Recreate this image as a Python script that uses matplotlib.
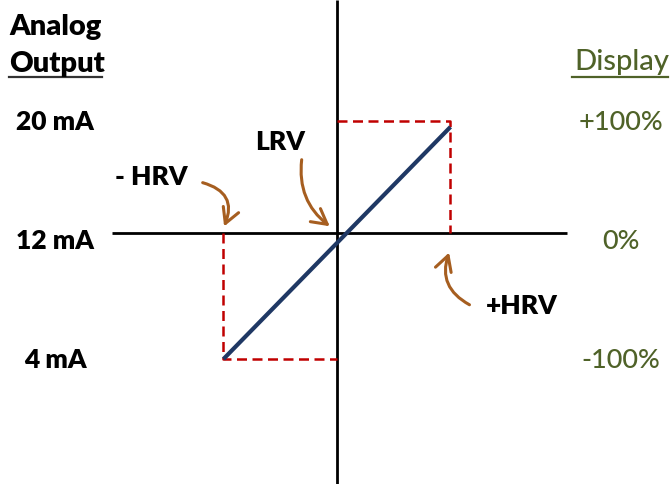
import matplotlib
matplotlib.use("Agg")
import matplotlib.pyplot as plt
from matplotlib.patches import FancyArrowPatch

# Data
display_pct = [-100, 0, 100]          # horizontal scale (% of range)
current_ma = [4, 12, 20]              # vertical scale (mA)
left_labels = ["4 mA", "12 mA", "20 mA"]
right_labels = ["-100%", "0%", "+100%"]
transfer_x = [-100, 100]              # blue transfer line
transfer_y = [4, 19.6]
axis_y = 12.45                        # horizontal axis level
hrv_labels = ["- HRV", "LRV", "+HRV"]

plt.rcParams['font.family'] = ['Lato', 'DejaVu Sans']

fig = plt.figure(figsize=(6.7, 4.84), dpi=100)
ax = fig.add_axes([0, 0, 1, 1])
ax.set_xlim(-296.9, 293.4)
ax.set_ylim(-4.40, 28.13)
ax.axis('off')

black = 'black'
green = '#4f6228'
red = '#c00000'
navy = '#1f3864'
brown = '#a65e20'

# axes lines
ax.plot([0, 0], [-4.40, 28.13], color=black, lw=2.0, solid_capstyle='butt')
ax.plot([-198, 202.6], [axis_y, axis_y], color=black, lw=2.0, solid_capstyle='butt')

# red dashed boxes
ax.plot([display_pct[0], display_pct[0], display_pct[1]],
        [axis_y, current_ma[0], current_ma[0]],
        color=red, lw=1.8, dashes=(4.0, 2.2))
ax.plot([display_pct[1], display_pct[2], display_pct[2]],
        [current_ma[2], current_ma[2], axis_y],
        color=red, lw=1.8, dashes=(4.0, 2.2))

# blue transfer line
ax.plot(transfer_x, transfer_y, color=navy, lw=3.0, solid_capstyle='butt')

def label(x, y, s, dy_px, **kw):
    ax.annotate(s, (x, y), xytext=(0, -dy_px * 0.72), textcoords='offset points',
                va='baseline', **kw)

# left labels
for v, lab in zip(current_ma, left_labels):
    label(-248.5, v, lab, 9, ha='center', fontsize=19, fontweight='heavy',
          color=black)
# right labels
for v, lab in zip(current_ma, right_labels):
    label(250.2, v, lab, 9, ha='center', fontsize=19.5, fontweight='medium',
          color=green)

# headers
ax.text(-289, 25.78, "Analog", ha='left', va='baseline', fontsize=21,
        fontweight='heavy', color=black)
ax.text(-289, 23.29, "Output", ha='left', va='baseline', fontsize=21,
        fontweight='heavy', color=black)
ax.plot([-289, -207], [22.93, 22.93], color='#333333', lw=1.6)
ax.text(292.5, 23.43, "Display", ha='right', va='baseline', fontsize=21,
        fontweight='medium', color=green)
ax.plot([207, 292], [22.93, 22.93], color=green, lw=1.6)

# HRV / LRV labels
ax.text(-163.9, 15.67, hrv_labels[0], ha='center', va='baseline', fontsize=19,
        fontweight='heavy', color=black)
ax.text(-50.2, 18.08, hrv_labels[1], ha='center', va='baseline', fontsize=19,
        fontweight='heavy', color=black)
ax.text(163, 7.02, hrv_labels[2], ha='center', va='baseline', fontsize=19,
        fontweight='heavy', color=black)

# curved arrows
def arrow(p0, p1, rad):
    a = FancyArrowPatch(p0, p1, connectionstyle=f"arc3,rad={rad}",
                        arrowstyle="->,head_length=0.6,head_width=0.33",
                        mutation_scale=18, color=brown, lw=2.2)
    ax.add_patch(a)

arrow((-120.7, 15.9), (-100.4, 12.74), -0.6)
arrow((-30.8, 17.58), (-4.4, 12.81), 0.3)
arrow((118.9, 7.56), (99.6, 11.33), -0.45)

fig.savefig("out.png", dpi=100)
